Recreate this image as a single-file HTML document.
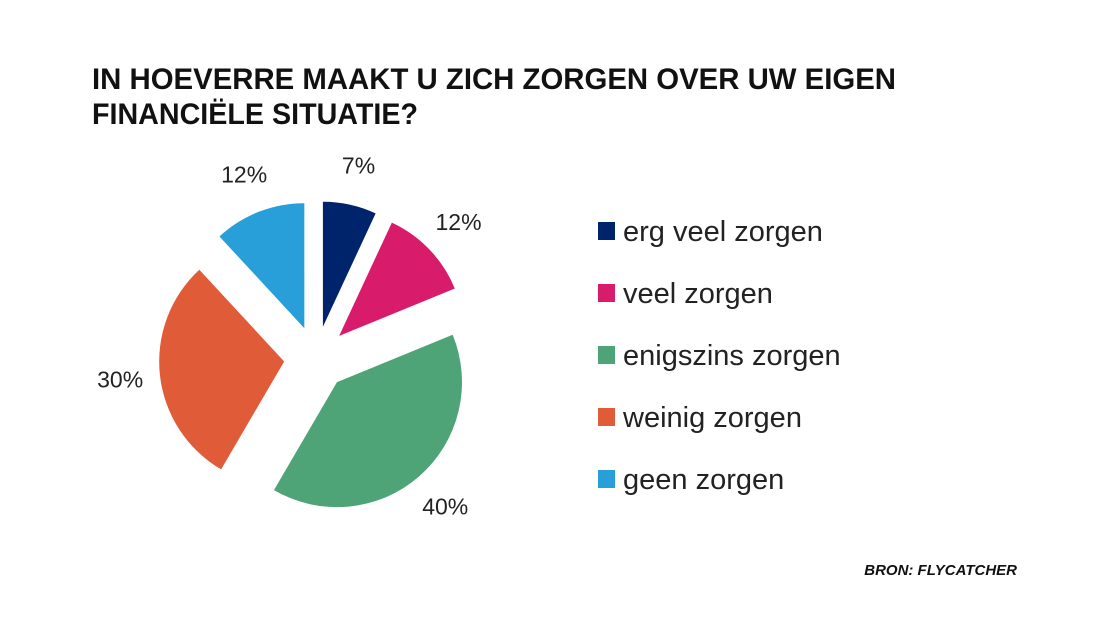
<!DOCTYPE html>
<html><head><meta charset="utf-8"><style>
html,body{margin:0;padding:0;background:#fff;}
svg{display:block;font-family:"Liberation Sans",sans-serif;}
</style></head><body>
<svg id="chart" width="1104" height="620" viewBox="0 0 1104 620">
<text x="92" y="89" font-size="30" font-weight="bold" fill="#111" textLength="804" lengthAdjust="spacingAndGlyphs">IN HOEVERRE MAAKT U ZICH ZORGEN OVER UW EIGEN</text>
<text x="92" y="124" font-size="30" font-weight="bold" fill="#111" textLength="326" lengthAdjust="spacingAndGlyphs">FINANCIËLE SITUATIE?</text>
<g id="slices"></g>
<g id="labels"></g>
<g id="legend"></g>
<text x="1017" y="575" text-anchor="end" font-size="15" font-weight="bold" font-style="italic" fill="#111">BRON: FLYCATCHER</text>
</svg>
<script>
const categories = ["erg veel zorgen","veel zorgen","enigszins zorgen","weinig zorgen","geen zorgen"];
const values = [7,12,40,30,12];
const labels = ["7%","12%","40%","30%","12%"];
const colors = ["#00246b","#d81b6a","#4ea477","#e05b37","#289fd9"];
const NS="http://www.w3.org/2000/svg";
const cx=316, cy=358, r=125, off=32, labR=197;
const total=values.reduce((a,b)=>a+b,0);
function pt(a,rad,x,y){return [x+rad*Math.sin(a), y-rad*Math.cos(a)];}
const gs=document.getElementById('slices'), gl=document.getElementById('labels'), gg=document.getElementById('legend');
let acc=0;
values.forEach((v,i)=>{
  const a0=acc/total*2*Math.PI; acc+=v; const a1=acc/total*2*Math.PI; const am=(a0+a1)/2;
  const [ox,oy]=pt(am,off,cx,cy);
  const [x0,y0]=pt(a0,r,ox,oy), [x1,y1]=pt(a1,r,ox,oy);
  const p=document.createElementNS(NS,'path');
  p.setAttribute('d',`M${ox},${oy}L${x0},${y0}A${r},${r} 0 ${a1-a0>Math.PI?1:0} 1 ${x1},${y1}Z`);
  p.setAttribute('fill',colors[i]);
  
  
  gs.appendChild(p);
  const [lx,ly]=pt(am,labR,cx,cy);
  const t=document.createElementNS(NS,'text');
  t.setAttribute('x',lx); t.setAttribute('y',ly+8);
  t.setAttribute('text-anchor','middle'); t.setAttribute('font-size','23'); t.setAttribute('fill','#222');
  t.textContent=labels[i];
  
  
  gl.appendChild(t);
  const y=231+i*62;
  const sq=document.createElementNS(NS,'rect');
  sq.setAttribute('x',598); sq.setAttribute('y',y-9); sq.setAttribute('width',17); sq.setAttribute('height',18);
  sq.setAttribute('fill',colors[i]);
  
  
  gg.appendChild(sq);
  const lt=document.createElementNS(NS,'text');
  lt.setAttribute('x',623); lt.setAttribute('y',y+10);
  lt.setAttribute('font-size','29'); lt.setAttribute('fill','#222');
  lt.textContent=categories[i];
  
  
  gg.appendChild(lt);
});
</script>
</body></html>
